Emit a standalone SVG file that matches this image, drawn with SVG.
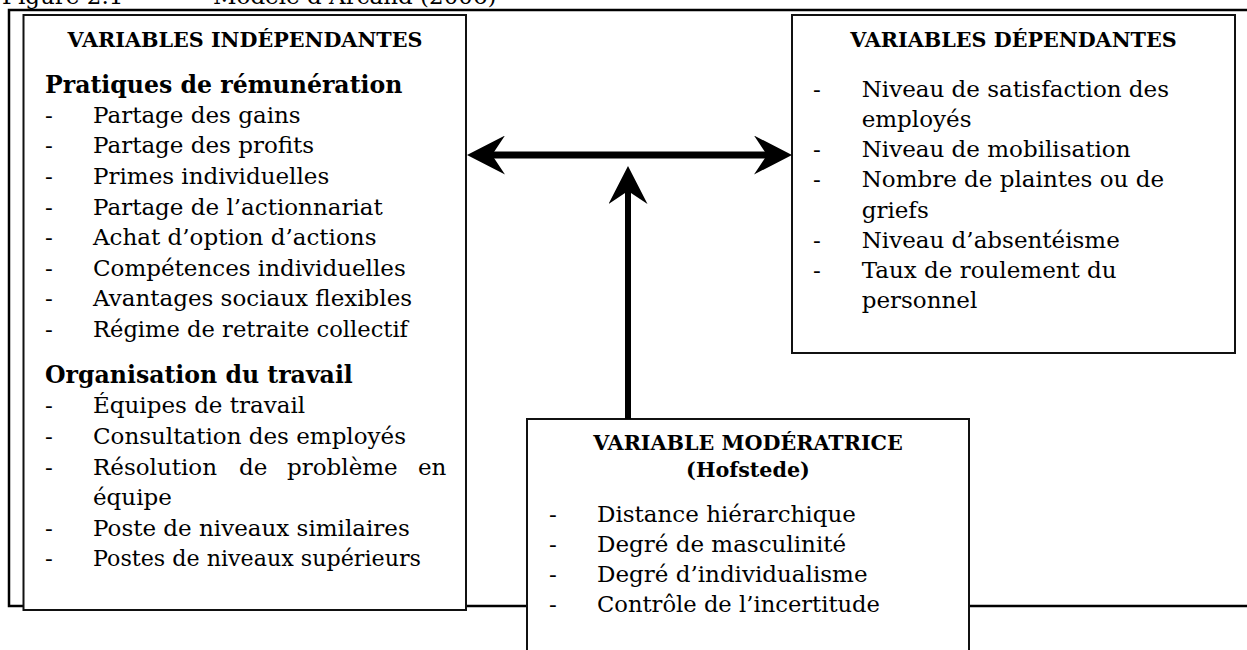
<svg xmlns="http://www.w3.org/2000/svg" width="1247" height="650" viewBox="0 0 1247 650">
  <style>
    .txt { font-family: "DejaVu Serif", "Liberation Serif", serif; font-size: 23px; fill: #000; }
    .head { font-family: "DejaVu Serif", "Liberation Serif", serif; font-size: 20.7px; font-weight: bold; fill: #000; }
    .sub { font-family: "DejaVu Serif", "Liberation Serif", serif; font-size: 23.6px; font-weight: bold; fill: #000; }
    .box { fill: #fff; stroke: #111; stroke-width: 2; }
    .frame { fill: none; stroke: #000; stroke-width: 2.5; }
    .shaft { stroke: #000; fill: none; }
  </style>
  <defs>
    <marker id="stealth" viewBox="0 0 38 39" markerUnits="userSpaceOnUse" markerWidth="38" markerHeight="39" refX="13" refY="19.5" orient="auto-start-reverse">
      <path d="M0,0 L38,19.5 L0,39 L13,19.5 Z" fill="#000"/>
    </marker>
  </defs>

  <!-- caption -->
  <text class="txt" x="2" y="4">Figure 2.1</text>
  <text class="txt" x="213" y="4">Modèle d’Arcand (2006)</text>

  <!-- surrounding frame -->
  <path class="frame" d="M1247,10 H9 V606 H1247"/>

  <!-- independent variables -->
  <g id="independantes">
    <rect class="box" x="23.5" y="15" width="442.5" height="595"/>
    <text class="head" x="245" y="47" text-anchor="middle">VARIABLES INDÉPENDANTES</text>
    <text class="sub" x="45" y="92.7">Pratiques de rémunération</text>
    <g class="txt">
      <text x="45" y="122.7">-</text><text x="93" y="122.7">Partage des gains</text>
      <text x="45" y="153.3">-</text><text x="93" y="153.3">Partage des profits</text>
      <text x="45" y="183.9">-</text><text x="93" y="183.9">Primes individuelles</text>
      <text x="45" y="214.5">-</text><text x="93" y="214.5">Partage de l’actionnariat</text>
      <text x="45" y="245.1">-</text><text x="93" y="245.1">Achat d’option d’actions</text>
      <text x="45" y="275.7">-</text><text x="93" y="275.7">Compétences individuelles</text>
      <text x="45" y="306.3">-</text><text x="93" y="306.3">Avantages sociaux flexibles</text>
      <text x="45" y="336.9">-</text><text x="93" y="336.9" textLength="315" lengthAdjust="spacingAndGlyphs">Régime de retraite collectif</text>
    </g>
    <text class="sub" x="45" y="382.7">Organisation du travail</text>
    <g class="txt">
      <text x="45" y="413.3">-</text><text x="93" y="413.3">Équipes de travail</text>
      <text x="45" y="443.9">-</text><text x="93" y="443.9">Consultation des employés</text>
      <text x="45" y="474.5">-</text><text y="474.5"><tspan x="93">Résolution</tspan><tspan x="239">de</tspan><tspan x="287">problème</tspan><tspan x="418">en</tspan></text>
      <text x="93" y="505.1">équipe</text>
      <text x="45" y="535.7">-</text><text x="93" y="535.7">Poste de niveaux similaires</text>
      <text x="45" y="566.3">-</text><text x="93" y="566.3" textLength="328" lengthAdjust="spacingAndGlyphs">Postes de niveaux supérieurs</text>
    </g>
  </g>

  <!-- dependent variables -->
  <g id="dependantes">
    <rect class="box" x="792" y="15" width="443" height="338"/>
    <text class="head" x="1013.5" y="47" text-anchor="middle">VARIABLES DÉPENDANTES</text>
    <g class="txt">
      <text x="813" y="96.7">-</text><text x="861.7" y="96.7">Niveau de satisfaction des</text>
      <text x="861.7" y="126.9">employés</text>
      <text x="813" y="157.1">-</text><text x="861.7" y="157.1">Niveau de mobilisation</text>
      <text x="813" y="187.3">-</text><text x="861.7" y="187.3">Nombre de plaintes ou de</text>
      <text x="861.7" y="217.5">griefs</text>
      <text x="813" y="247.7">-</text><text x="861.7" y="247.7">Niveau d’absentéisme</text>
      <text x="813" y="277.9">-</text><text x="861.7" y="277.9">Taux de roulement du</text>
      <text x="861.7" y="308.1">personnel</text>
    </g>
  </g>

  <!-- moderating variable -->
  <g id="moderatrice">
    <rect class="box" x="527" y="419" width="442" height="260"/>
    <text class="head" x="748" y="450" text-anchor="middle">VARIABLE MODÉRATRICE</text>
    <text class="head" x="748" y="477.3" text-anchor="middle">(Hofstede)</text>
    <g class="txt">
      <text x="549" y="521.5">-</text><text x="597" y="521.5">Distance hiérarchique</text>
      <text x="549" y="551.5">-</text><text x="597" y="551.5">Degré de masculinité</text>
      <text x="549" y="581.5">-</text><text x="597" y="581.5">Degré d’individualisme</text>
      <text x="549" y="611.5">-</text><text x="597" y="611.5" textLength="283" lengthAdjust="spacingAndGlyphs">Contrôle de l’incertitude</text>
    </g>
  </g>

  <!-- connectors -->
  <g id="connectors">
    <line class="shaft" x1="492" y1="155" x2="767" y2="155" stroke-width="7" marker-start="url(#stealth)" marker-end="url(#stealth)"/>
    <line class="shaft" x1="628" y1="419" x2="628" y2="191" stroke-width="6" marker-end="url(#stealth)"/>
  </g>
</svg>
